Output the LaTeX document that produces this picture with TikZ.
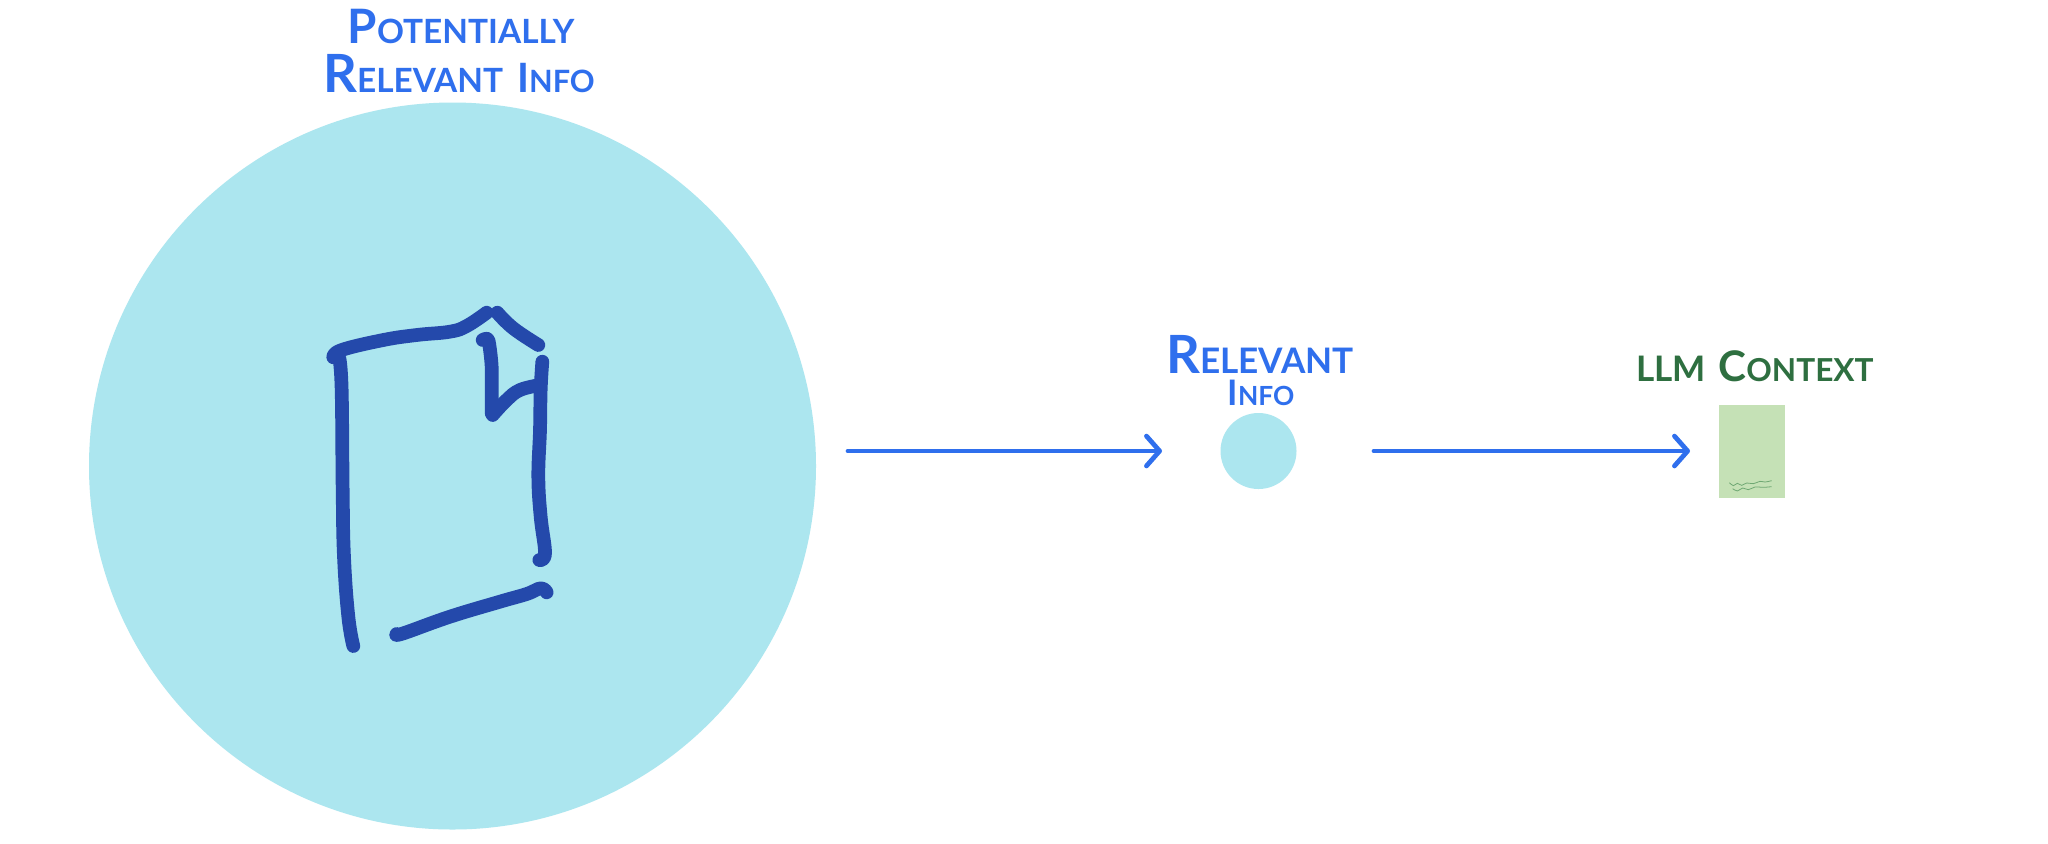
\documentclass[tikz,border=0pt]{standalone}
\usepackage{fontspec}
\setmainfont{Lato}
\usetikzlibrary{arrows.meta}
\definecolor{handblue}{HTML}{2F6FED}
\definecolor{handgreen}{HTML}{2E6F40}
\definecolor{bubble}{HTML}{ACE6EF}
\definecolor{docblue}{HTML}{2449AB}
\definecolor{ctx}{HTML}{C5E1B6}
\definecolor{squig}{HTML}{6FA873}
\newcommand{\hsc}[4]{{\fontsize{#1}{#1}\selectfont #3}{\fontsize{#2}{#2}\selectfont\uppercase{#4}}}
\tikzset{
  x=0.02cm,y=-0.02cm,
  bubblenode/.style={circle,fill=bubble,draw=none,inner sep=0pt},
  labelblue/.style={text=handblue,inner sep=0pt,font=\bfseries,anchor=base,text height=0pt,text depth=0pt},
  labelgreen/.style={text=handgreen,inner sep=0pt,font=\bfseries,anchor=base,text height=0pt,text depth=0pt},
  flow/.style={draw=handblue,line width=2.7pt,line cap=round,line join=round,
    -{Straight Barb[length=7.5pt,width=17pt,line width=2.7pt,round]}},
  docline/.style={draw=docblue,line width=7.8pt,line cap=round,line join=round},
  squiggle/.style={draw=squig,line width=0.45pt},
}
\begin{document}
\begin{tikzpicture}
\useasboundingbox[fill=white] (0,0) rectangle (2048,843);
\node[bubblenode,minimum size=727*0.02cm] (big) at (452.5,466) {};
\node[bubblenode,minimum size=76*0.02cm] (small) at (1258.5,451) {};
\node[fill=ctx,draw=none,inner sep=0pt,minimum width=66*0.02cm,minimum height=93*0.02cm] (context) at (1752,451.5) {};
\node[labelblue] (lpot) at (461,43) {\hsc{27pt}{19pt}{P}{otentially}};
\node[labelblue] (lrel) at (459,92) {\hsc{30pt}{19pt}{R}{elevant}\hspace{8pt}\hsc{23pt}{17.5pt}{I}{nfo}};
\node[labelblue] (lrel2) at (1260,373) {\hsc{30pt}{20pt}{R}{elevant}};
\node[labelblue] (linfo) at (1261,405) {\hsc{20pt}{15pt}{I}{nfo}};
\node[labelgreen] (lctx) at (1755,381) {\hsc{20pt}{20pt}{L}{lm}\hspace{7pt}\hsc{24pt}{18pt}{C}{ontext}};
\coordinate (a1) at (848,451);
\coordinate (a2) at (1162,451);
\coordinate (b1) at (1374,451);
\coordinate (b2) at (1690,451);
\draw[flow] (a1) -- (a2);
\draw[flow] (b1) -- (b2);
\begin{scope}[shift={(300,290)},xscale=1/3,yscale=1/3]
\draw[docline] plot[smooth,tension=.7] coordinates {(118,205)(125,300)(128,600)(132,800)(145,980)(160,1068)};
\draw[docline] plot[smooth,tension=.7] coordinates {(100,202)(125,180)(250,150)(350,135)(450,125)(500,108)(560,68)};
\draw[docline] plot[smooth,tension=.7] coordinates {(592,68)(640,115)(715,165)};
\draw[docline] plot[smooth,tension=.4] coordinates {(548,150)(565,150)(575,230)(575,370)};
\draw[docline] plot[smooth,tension=.7] coordinates {(578,375)(620,330)(660,300)(720,285)};
\draw[docline] plot[smooth,tension=.7] coordinates {(727,215)(722,300)(720,420)(715,560)(722,680)(735,790)(718,810)};
\draw[docline] plot[smooth,tension=.7] coordinates {(290,1032)(310,1030)(450,980)(600,935)(680,912)(722,895)(740,907)};
\end{scope}
\begin{scope}[shift={(1620,330)},xscale=1/3,yscale=1/3]
\draw[squiggle] plot[smooth] coordinates {(328,458)(340,467)(352,460)(365,466)(380,459)(400,461)(420,454)(435,456)(455,452)};
\draw[squiggle] plot[smooth] coordinates {(338,476)(352,483)(368,474)(385,479)(405,471)(430,472)(455,470)};
\end{scope}
\end{tikzpicture}
\end{document}
